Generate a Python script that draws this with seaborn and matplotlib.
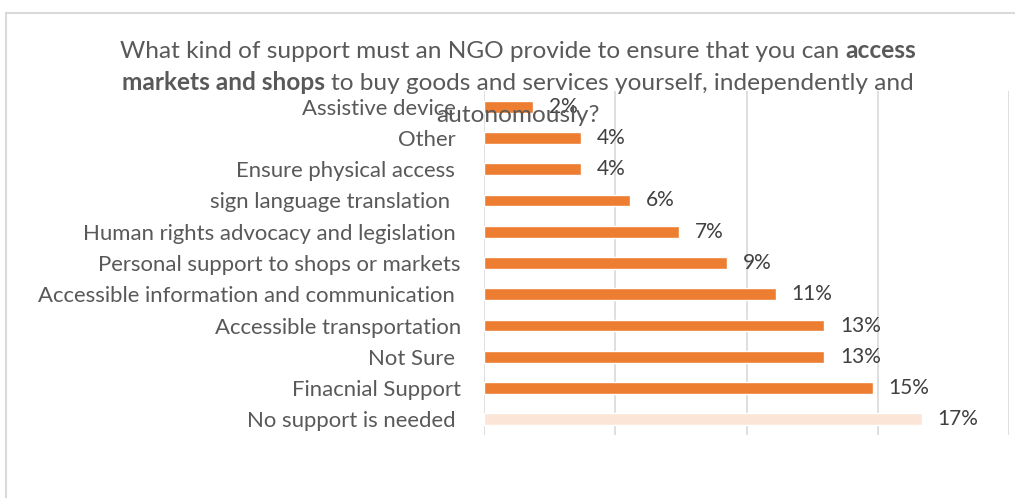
import matplotlib
matplotlib.use("Agg")
import matplotlib.pyplot as plt
import seaborn as sns
import pandas as pd
from matplotlib.lines import Line2D

# ---- data ----
categories = [
    "Assistive device ",
    "Other ",
    "Ensure physical access ",
    "sign language translation  ",
    "Human rights advocacy and legislation ",
    "Personal support to shops or markets",
    "Accessible information and communication ",
    "Accessible transportation",
    "Not Sure ",
    "Finacnial Support",
    "No support is needed ",
]
values = [1.85, 3.70, 3.70, 5.56, 7.41, 9.26, 11.11, 12.96, 12.96, 14.81, 16.67]
value_labels = ["2%", "4%", "4%", "6%", "7%", "9%", "11%", "13%", "13%", "15%", "17%"]
bar_colors = ["#ED7D31"] * 10 + ["#FBE5D6"]
title_lines = [
    [("What kind of support must an NGO provide to ensure that you can", "normal"), ("access", "bold")],
    [("markets and shops", "bold"), ("to buy goods and services yourself, independently and", "normal")],
    [("autonomously?", "normal")],
]

FONT = ["Lato", "DejaVu Sans"]
GRAY = "#595959"
W, H = 1015, 498

sns.set_theme(style="white")
plt.rcParams["font.family"] = FONT

fig = plt.figure(figsize=(W / 100, H / 100), dpi=100)
renderer = fig.canvas.get_renderer()


def tw(s, size, weight="normal"):
    t = fig.text(0, 0, s, fontsize=size, fontweight=weight, family=FONT)
    w = t.get_window_extent(renderer).width
    t.remove()
    return w


def seg_w(s, size, weight="normal"):
    return tw("|" + s + "|", size, weight) - tw("||", size, weight)


# font sizes fitted to reference text widths
cat_size = 10 * 373 / tw("Human rights advocacy and legislation", 10)
val_size = 10 * 41 / tw("17%", 10)
l1 = seg_w(title_lines[0][0][0] + " ", 10) + seg_w("access", 10, "bold")
title_size = 10 * 797 / l1

# axes placement
x0, x1, ytop, ybot = 484, 1009, 91, 435
ax = fig.add_axes([x0 / W, 1 - ybot / H, (x1 - x0) / W, (ybot - ytop) / H])

df = pd.DataFrame({"category": categories, "value": values})
sns.barplot(data=df, y="category", x="value", hue="category", palette=bar_colors,
            order=categories, hue_order=categories, orient="h", legend=False,
            width=0.38, saturation=1, ax=ax)

ax.set_xlim(0, 20)
ax.set_xticks([0, 5, 10, 15, 20])
ax.set_xticklabels([])
ax.set_xlabel("")
ax.set_ylabel("")
ax.grid(axis="x", color="#D9D9D9", linewidth=1.2)
ax.grid(axis="y", visible=False)
ax.set_axisbelow(True)
for sp in ax.spines.values():
    sp.set_visible(False)
ax.tick_params(axis="y", length=0, pad=23 * 0.72, labelsize=cat_size, labelcolor=GRAY)
ax.tick_params(axis="x", length=0)

for cont, lab in zip(ax.containers, value_labels):
    ax.bar_label(cont, labels=[lab], padding=16 * 0.72, fontsize=val_size, color="#404040")

# title with mixed weights, centred
cx = 518
baselines = [58, 90, 122]
sp_w = seg_w(" ", title_size)
for line, yb in zip(title_lines, baselines):
    widths = [seg_w(s, title_size, wt) for s, wt in line]
    total = sum(widths) + sp_w * (len(line) - 1)
    x = cx - total / 2
    for (s, wt), w in zip(line, widths):
        fig.text(x / W, 1 - yb / H, s, fontsize=title_size, fontweight=wt,
                 color=GRAY, ha="left", va="baseline", zorder=10)
        x += w + sp_w

# chart border
bx, by = 5.5 / W, 1 - 13.5 / H
fig.add_artist(Line2D([bx, bx], [-0.01, by], color="#D9D9D9", lw=1.5, transform=fig.transFigure))
fig.add_artist(Line2D([bx, 1.01], [by, by], color="#D9D9D9", lw=1.5, transform=fig.transFigure))

fig.savefig("out.png", dpi=100, facecolor="white")
